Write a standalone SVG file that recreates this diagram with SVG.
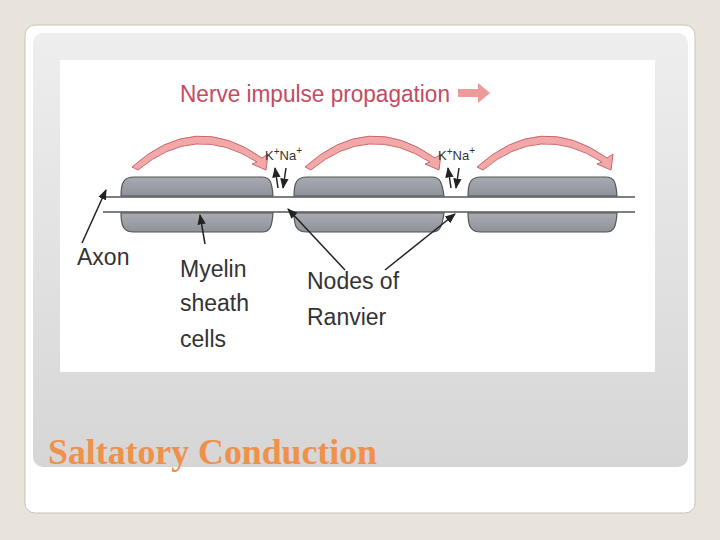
<svg xmlns="http://www.w3.org/2000/svg" width="720" height="540" viewBox="0 0 720 540">
<defs>
<linearGradient id="pg" x1="0" y1="0" x2="0" y2="1"><stop offset="0" stop-color="#eeeeee"/><stop offset="1" stop-color="#d6d6d6"/></linearGradient>
<linearGradient id="cg" x1="0" y1="0" x2="0" y2="1"><stop offset="0" stop-color="#a8acb2"/><stop offset="1" stop-color="#8e9299"/></linearGradient>
<marker id="ah" viewBox="0 0 10 10" refX="9" refY="5" markerWidth="7" markerHeight="7" orient="auto-start-reverse"><path d="M0,1 L10,5 L0,9 Z" fill="#222"/></marker>
<style>
.cell{fill:url(#cg);stroke:#555;stroke-width:1.2}
.lbl{font-family:"Liberation Sans",sans-serif;font-size:23px;fill:#333}
.ion{font-family:"Liberation Sans",sans-serif;font-size:13px;fill:#333}
.ptr{stroke:#222;stroke-width:1.5;fill:none;marker-end:url(#ah)}
.arc{fill:#f2a8a8;stroke:#c86868;stroke-width:1}
</style>
</defs>
<rect width="720" height="540" fill="#e8e4dc"/>
<rect x="25" y="25" width="670" height="488" rx="10" fill="#ffffff" stroke="#c8c4bc"/>
<rect x="33" y="33" width="655" height="434" rx="10" fill="url(#pg)"/>
<rect x="60" y="60" width="595" height="312" fill="#ffffff"/>
<g id="title-top">
<text x="180" y="102" font-family="Liberation Sans,sans-serif" font-size="23" fill="#c54a62" textLength="270" lengthAdjust="spacingAndGlyphs">Nerve impulse propagation</text>
<path d="M458,89 h20 v-6 l12,10 l-12,10 v-6 h-20 z" fill="#ef9a9a"/>
</g>
<g id="axon">
<line x1="103" y1="197" x2="635" y2="197" stroke="#555" stroke-width="1.3"/>
<line x1="103" y1="212" x2="635" y2="212" stroke="#555" stroke-width="1.3"/>
</g>
<g id="myelin">
<path class="cell" d="M121,196 C121,182 124,177 134,177 H262 C270,177 272,182 273,196 Z"/>
<path class="cell" d="M121,213 C121,227 124,232 134,232 H262 C270,232 272,227 273,213 Z"/>
<path class="cell" d="M294,196 C294,182 297,177 307,177 H432 C440,177 442,182 444,196 Z"/>
<path class="cell" d="M294,213 C294,227 297,232 307,232 H432 C440,232 442,227 444,213 Z"/>
<path class="cell" d="M468,196 C468,182 471,177 481,177 H606 C614,177 616,182 617,196 Z"/>
<path class="cell" d="M468,213 C468,227 471,232 481,232 H606 C614,232 616,227 617,213 Z"/>
</g>
<g id="arcs">
<path class="arc" d="M132,167 Q195,110 262,158 L268,154 L266,170 L252,164 L257,162 Q195,122 138,170 Z"/>
<path class="arc" d="M305,167 Q368,110 435,158 L441,154 L439,170 L425,164 L430,162 Q368,122 311,170 Z"/>
<path class="arc" d="M477,167 Q540,110 607,158 L613,154 L611,170 L597,164 L602,162 Q540,122 483,170 Z"/>
</g>
<g id="ions">
<text class="ion" x="265" y="160">K<tspan dy="-5" font-size="10">+</tspan><tspan dy="5">Na</tspan><tspan dy="-6" font-size="10">+</tspan></text>
<text class="ion" x="438" y="160">K<tspan dy="-5" font-size="10">+</tspan><tspan dy="5">Na</tspan><tspan dy="-6" font-size="10">+</tspan></text>
<line class="ptr" x1="278" y1="188" x2="275" y2="168"/>
<line class="ptr" x1="286" y1="168" x2="283" y2="188"/>
<line class="ptr" x1="451" y1="188" x2="448" y2="168"/>
<line class="ptr" x1="459" y1="168" x2="456" y2="188"/>
</g>
<g id="connectors">
<line class="ptr" x1="82" y1="243" x2="106" y2="190"/>
<line class="ptr" x1="205" y1="244" x2="200" y2="215"/>
<line class="ptr" x1="345" y1="270" x2="288" y2="209"/>
<line class="ptr" x1="385" y1="270" x2="455" y2="214"/>
</g>
<g id="labels">
<text class="lbl" x="77" y="265">Axon</text>
<text class="lbl" x="180" y="277">Myelin</text>
<text class="lbl" x="180" y="311">sheath</text>
<text class="lbl" x="180" y="347">cells</text>
<text class="lbl" x="307" y="289">Nodes of</text>
<text class="lbl" x="307" y="325">Ranvier</text>
</g>
<text x="48" y="464" font-family="Liberation Serif,serif" font-weight="bold" font-size="35" fill="#f0904a" textLength="329" lengthAdjust="spacingAndGlyphs">Saltatory Conduction</text>
</svg>
